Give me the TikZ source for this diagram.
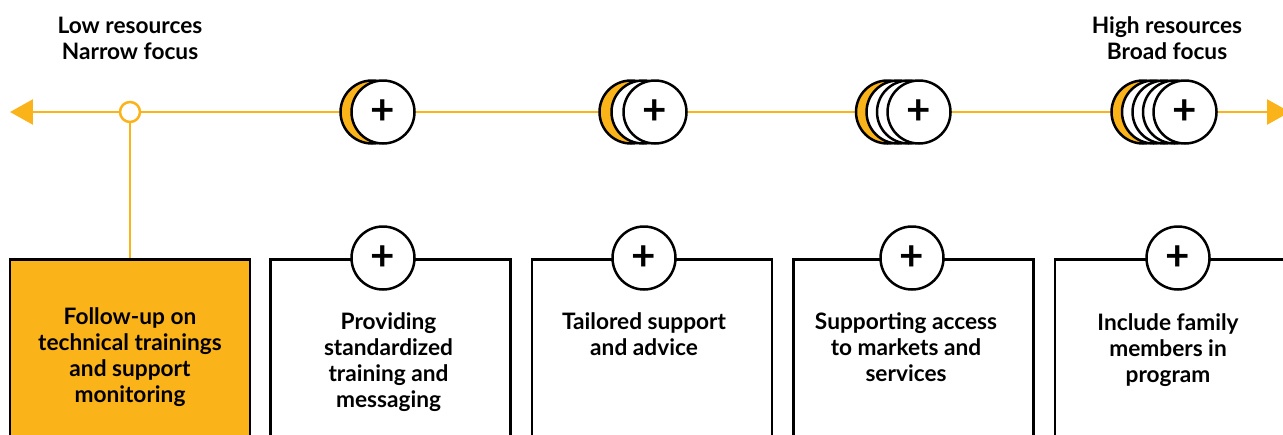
\documentclass[tikz,border=0pt]{standalone}
\usepackage{fontspec}
\setmainfont{Lato}
\usetikzlibrary{arrows.meta, positioning}
\definecolor{accent}{HTML}{FBB31A}

\begin{document}
\begin{tikzpicture}[x=0.02cm, y=-0.02cm,
    every node/.style={align=center, font=\bfseries\fontsize{12.9}{14.8}\selectfont},
    axis/.style={draw=accent, line width=0.05cm},
    stack/.style={
        circle,
        draw,
        line width=0.05cm,
        minimum size=1.26cm,
        inner sep=0pt
    },
    plus/.style={
        stack,
        fill=white,
        font=\bfseries\fontsize{24}{24}\selectfont
    },
    panel/.style={
        draw,
        line width=0.05cm,
        minimum width=4.8cm,
        minimum height=4cm,
        fill=white
    },
    label/.style={inner sep=0pt}]

    \useasboundingbox (0,0) rectangle (1283,434);
    \clip (0,0) rectangle (1283,434);

    % Axis with end points and the starting dot
    \coordinate (lend) at (10,112);
    \coordinate (rend) at (1290,112);
    \draw[axis, {Triangle[length=0.46cm, width=0.5cm]}-{Triangle[length=0.46cm, width=0.5cm]}] (lend) -- (rend);
    \node[circle, draw=accent, fill=white, line width=0.05cm, minimum size=0.4cm, inner sep=0pt] (dot) at (130,112) {};

    % Axis end labels
    \node (low) at (130,38) {Low resources\\Narrow focus};
    \node (high) at (1167,38) {High resources\\Broad focus};

    % Stacks of circles on the axis
    \foreach \cx/\n/\d/\g in {383/1/11/a, 655/2/12/b, 919/3/10.5/c, 1185/4/10.5/d} {
        \foreach \i in {\n,...,1} {
            \ifnum\i=\n \def\fc{accent}\else\def\fc{white}\fi
            \node[stack, fill=\fc] (\g\i) at ({\cx-\i*\d},112) {};
        }
        \node[plus] (top\g) at (\cx,112) {+};
    }

    % Panels
    \node[panel, fill=accent, anchor=north] (box1) at (130,258) {};
    \node[panel, right=0.36cm of box1] (box2) {};
    \node[panel, right=0.38cm of box2] (box3) {};
    \node[panel, right=0.38cm of box3] (box4) {};
    \node[panel, right=0.38cm of box4] (box5) {};
    \draw[axis] (dot.south) -- (box1.north);

    % Plus marks on the panels
    \node[plus] (p2) at (383,258) {+};
    \node[plus] (p3) at (644,258) {+};
    \node[plus] (p4) at (912,258) {+};
    \node[plus] (p5) at (1178,258) {+};

    % Panel texts
    \node[label, below=0.98cm of box1.north] (t1) {Follow-up on\\technical trainings\\and support\\monitoring};
    \node[label, below=1.08cm of p2.center, xshift=0.11cm] (t2) {Providing\\standardized\\training and\\messaging};
    \node[label, below=1.08cm of p3.center] (t3) {Tailored support\\and advice};
    \node[label, below=1.08cm of p4.center, xshift=-0.12cm] (t4) {Supporting access\\to markets and\\services};
    \node[label, below=1.1cm of p5.center, xshift=-0.2cm] (t5) {Include family\\members in\\program};

\end{tikzpicture}
\end{document}
